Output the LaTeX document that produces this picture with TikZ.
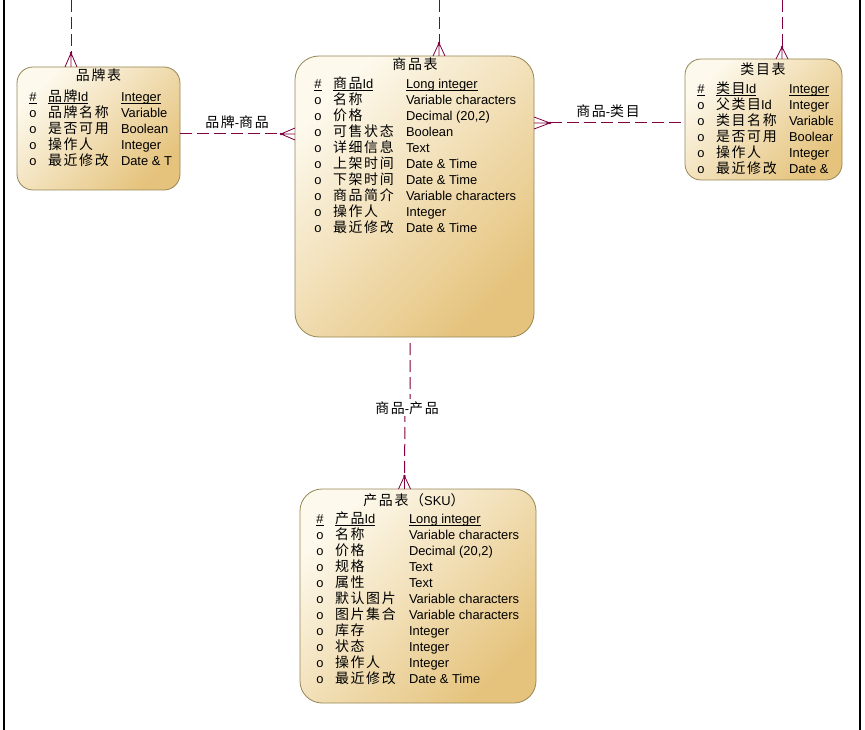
\documentclass[tikz,border=0pt]{standalone}
\usepackage{fontspec}
\setmainfont{Liberation Sans}
\newfontfamily\zhfont{Noto Sans CJK SC}[Scale=1.08,LetterSpace=12]
\newcommand\zh[1]{{\zhfont #1}}
\newcommand\ul[1]{\setbox0\hbox{#1}\rlap{\rule[-2.2pt]{\wd0}{0.7pt}}\box0}
\usetikzlibrary{calc}
\definecolor{relcol}{RGB}{128,0,64}
\definecolor{boxline}{RGB}{150,135,85}
\definecolor{filltop}{RGB}{253,249,236}
\definecolor{fillbot}{RGB}{229,195,125}
\newcommand\crowv[2]{%
  \fill[relcol] (#1) circle (1.3pt);
  \draw[foot] ($(#1 |- #2)+(-6,0)$) -- (#1) -- ($(#1 |- #2)+(6,0)$) (#1) -- (#1 |- #2);}
\newcommand\crowh[2]{%
  \fill[relcol] (#1) circle (1.3pt);
  \draw[foot] ($(#1 -| #2)+(0,-6)$) -- (#1) -- ($(#1 -| #2)+(0,6)$) (#1) -- (#1 -| #2);}
\begin{document}
\begin{tikzpicture}[x=1pt,y=-1pt,
  every node/.style={inner sep=0pt,outer sep=0pt},
  txt/.style={anchor=base west,font=\fontsize{12.9}{16}\selectfont},
  mrk/.style={anchor=base,font=\fontsize{12.9}{16}\selectfont},
  ttl/.style={anchor=base,font=\fontsize{12.9}{16}\selectfont},
  entity/.style={draw=boxline,line width=0.8pt,top color=filltop,bottom color=fillbot,shading angle=45,shape=rectangle},
  rel/.style={draw=relcol,line width=1pt,dash pattern=on 12pt off 5pt},
  foot/.style={draw=relcol,line width=0.8pt},
  lbl/.style={anchor=base,font=\fontsize{12.9}{16}\selectfont,fill=white,inner sep=2pt},
  frame/.style={draw=black,line width=1.5pt}]
\useasboundingbox (0,0) rectangle (865,730);
\fill[white] (0,0) rectangle (865,730);
% frame lines
\coordinate (fl1) at (4,0); \coordinate (fl2) at (4,730);
\coordinate (fr1) at (860,0); \coordinate (fr2) at (860,730);
\draw[frame] (fl1) -- (fl2);
\draw[frame] (fr1) -- (fr2);
% entities
\node[entity,rounded corners=16pt,minimum width=163pt,minimum height=123pt] (brand) at (98.5,128.5) {};
\node[entity,rounded corners=24pt,minimum width=239pt,minimum height=281pt] (goods) at (414.5,196.5) {};
\node[entity,rounded corners=16pt,minimum width=157pt,minimum height=121pt] (cat) at (763.5,119.5) {};
\node[entity,rounded corners=22pt,minimum width=236pt,minimum height=214pt] (prod) at (418,596) {};
% titles
\node[ttl] (brandT) at (98.5,81) {\zh{品牌表}};
\node[ttl] (goodsT) at (415,70) {\zh{商品表}};
\node[ttl] (catT) at (763,75) {\zh{类目表}};
\node[ttl] (prodT) at (414,505) {\zh{产品表（}SKU\zh{）}};
% brand rows
\begin{scope}
\clip (17,67) rectangle (171,190);
\foreach [count=\i from 0] \m/\n/\t in {
  \ul{\#}/\ul{\zh{品牌}Id}/\ul{Integer},
  o/\zh{品牌名称}/Variable,
  o/\zh{是否可用}/Boolean,
  o/\zh{操作人}/Integer,
  o/\zh{最近修改}/Date \& T}{
  \node[mrk] (bm\i) at (33,101.8+16*\i) {\m};
  \node[txt] (bn\i) at (48,101.8+16*\i) {\n};
  \node[txt] (bt\i) at (121,101.8+16*\i) {\t};
}
\end{scope}
% goods rows
\foreach [count=\i from 0] \m/\n/\t in {
  \ul{\#}/\ul{\zh{商品}Id}/\ul{Long integer},
  o/\zh{名称}/Variable characters,
  o/\zh{价格}/{Decimal (20,2)},
  o/\zh{可售状态}/Boolean,
  o/\zh{详细信息}/Text,
  o/\zh{上架时间}/Date \& Time,
  o/\zh{下架时间}/Date \& Time,
  o/\zh{商品简介}/Variable characters,
  o/\zh{操作人}/Integer,
  o/\zh{最近修改}/Date \& Time}{
  \node[mrk] (gm\i) at (318,88.8+16*\i) {\m};
  \node[txt] (gn\i) at (333,88.8+16*\i) {\n};
  \node[txt] (gt\i) at (406,88.8+16*\i) {\t};
}
% category rows
\begin{scope}
\clip (685,59) rectangle (832,180);
\foreach [count=\i from 0] \m/\n/\t in {
  \ul{\#}/\ul{\zh{类目}Id}/\ul{Integer},
  o/\zh{父类目}Id/Integer,
  o/\zh{类目名称}/Variable,
  o/\zh{是否可用}/Boolean,
  o/\zh{操作人}/Integer,
  o/\zh{最近修改}/Date \&}{
  \node[mrk] (cm\i) at (701,93.1+16*\i) {\m};
  \node[txt] (cn\i) at (716,93.1+16*\i) {\n};
  \node[txt] (ct\i) at (789,93.1+16*\i) {\t};
}
\end{scope}
% product rows
\foreach [count=\i from 0] \m/\n/\t in {
  \ul{\#}/\ul{\zh{产品}Id}/\ul{Long integer},
  o/\zh{名称}/Variable characters,
  o/\zh{价格}/{Decimal (20,2)},
  o/\zh{规格}/Text,
  o/\zh{属性}/Text,
  o/\zh{默认图片}/Variable characters,
  o/\zh{图片集合}/Variable characters,
  o/\zh{库存}/Integer,
  o/\zh{状态}/Integer,
  o/\zh{操作人}/Integer,
  o/\zh{最近修改}/Date \& Time}{
  \node[mrk] (pm\i) at (320,523.8+16*\i) {\m};
  \node[txt] (pn\i) at (335,523.8+16*\i) {\n};
  \node[txt] (pt\i) at (409,523.8+16*\i) {\t};
}
% connectors from top
\coordinate (t1) at (71,0);  \coordinate (cf1) at (71,53);
\coordinate (t2) at (439,0); \coordinate (cf2) at (439,43);
\coordinate (t3) at (782,0); \coordinate (cf3) at (782,47);
\draw[rel] (t1) -- (cf1); \crowv{cf1}{brand.north}
\draw[rel] (t2) -- (cf2); \crowv{cf2}{goods.north}
\draw[rel] (t3) -- (cf3); \crowv{cf3}{cat.north}
% brand - goods
\coordinate (cf4) at (281,134);
\draw[rel] (cf4 -| brand.east) -- (cf4); \crowh{cf4}{goods.west}
\node[lbl,fill=none] (l1) at (237,128) {\zh{品牌}-\zh{商品}};
% goods - category
\coordinate (cf5) at (550,123);
\draw[rel] (cf5) -- (cf5 -| cat.west); \crowh{cf5}{goods.east}
\node[lbl,fill=none] (l2) at (608,117) {\zh{商品}-\zh{类目}};
% goods - product
\coordinate (g1) at (410,343); \coordinate (k1) at (410,402);
\coordinate (k2) at (405,414); \coordinate (cf6) at (404.5,476);
\draw[rel] (g1) -- (k1) -- (k2) -- (cf6); \crowv{cf6}{prod.north}
\node[lbl] (l3) at (407,413) {\zh{商品}-\zh{产品}};
\end{tikzpicture}
\end{document}
